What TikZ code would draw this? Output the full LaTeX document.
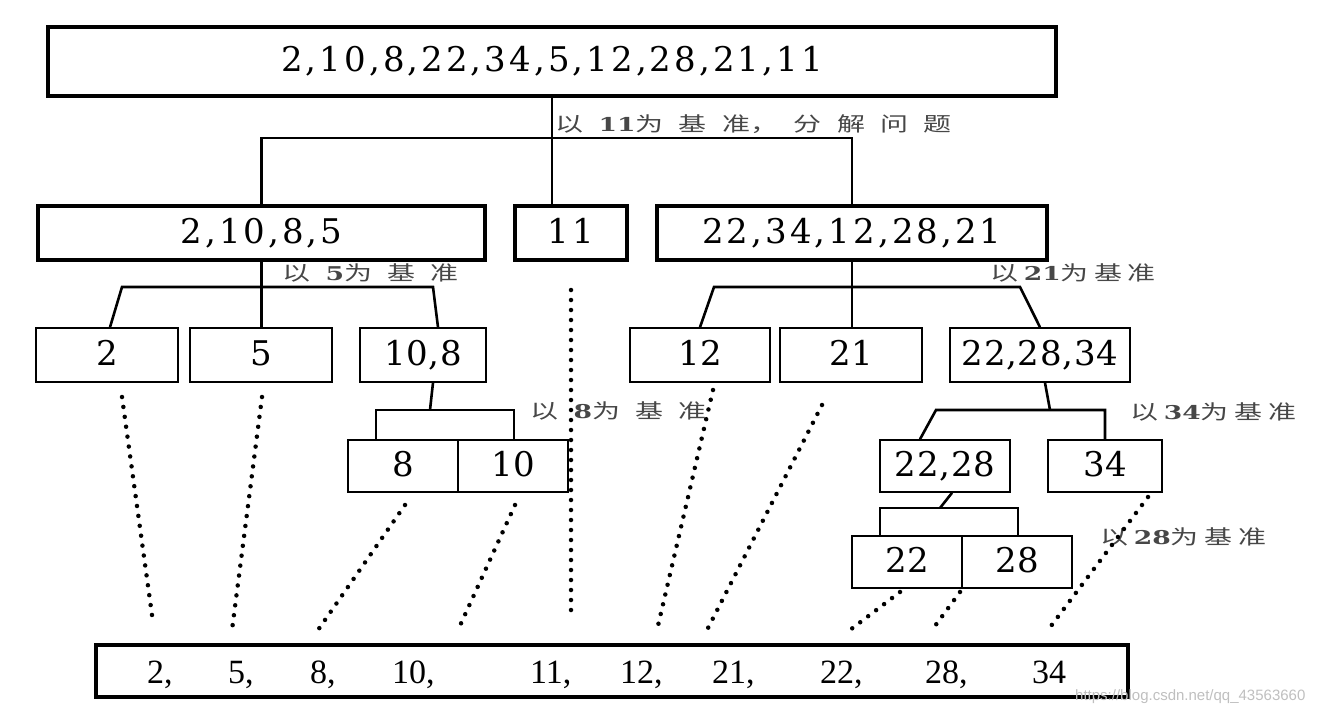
\documentclass[tikz,border=0pt]{standalone}
\usepackage{fontspec}
\setmainfont{Liberation Serif}
\newfontfamily\numfontA[LetterSpace=9]{DejaVu Serif}
\newfontfamily\numfontB[LetterSpace=2]{DejaVu Serif}
\newfontfamily\lnum{DejaVu Serif}
\newfontfamily\cjk{Noto Sans CJK SC}
\newfontfamily\wmfont{Liberation Sans}
\newcommand{\gp}{\hspace{11pt}}
\newcommand{\gq}{\hspace{4pt}}
\newcommand{\labn}[1]{{\lnum\bfseries\fontsize{19}{21}\selectfont #1}}
\begin{document}
\begin{tikzpicture}[x=1pt,y=-1pt,
  box/.style={draw, line width=1.6pt, minimum height=54pt, inner sep=0pt, text height=24pt, text depth=4pt, font=\numfontB\fontsize{34}{40}\selectfont},
  thickbox/.style={box, line width=3.8pt, font=\numfontA\fontsize{34}{40}\selectfont},
  tree/.style={line width=2.6pt},
  dots/.style={line width=4.5pt, dash pattern=on 0pt off 10pt, line cap=round},
  lab/.style={anchor=west, inner sep=0pt, text=black!72, font=\cjk\fontsize{20}{22}\selectfont},
  bnum/.style={anchor=base west, inner sep=0pt, font=\fontsize{34}{40}\selectfont}]
\useasboundingbox (0,0) rectangle (1328,718);
% boxes
\node[thickbox, minimum width=1008pt, minimum height=69pt] (top) at (552,61.5) {2,10,8,22,34,5,12,28,21,11};
\node[thickbox, minimum width=447pt] (A) at (261.5,233) {2,10,8,5};
\node[thickbox, minimum width=112pt] (B) at (571,233) {11};
\node[thickbox, minimum width=390pt] (C) at (852,233) {22,34,12,28,21};
\node[box, minimum width=142pt] (n2) at (107,355) {2};
\node[box, minimum width=142pt] (n5) at (261,355) {5};
\node[box, minimum width=126pt] (n108) at (423,355) {10,8};
\node[box, minimum width=140pt] (n12) at (700,355) {12};
\node[box, minimum width=142pt] (n21) at (851,355) {21};
\node[box, minimum width=180pt] (n222834) at (1040,355) {22,28,34};
\node[box, minimum width=110pt, minimum height=52pt] (n8) at (403,466) {8};
\node[box, minimum width=110pt, minimum height=52pt] (n10) at (513,466) {10};
\node[box, minimum width=130pt, minimum height=52pt] (n2228) at (945,466) {22,28};
\node[box, minimum width=114pt, minimum height=52pt] (n34) at (1105,466) {34};
\node[box, minimum width=110pt, minimum height=52pt] (n22) at (907,562) {22};
\node[box, minimum width=110pt, minimum height=52pt] (n28) at (1017,562) {28};
\node[thickbox, minimum width=1032pt, minimum height=52pt] (bot) at (612,671) {};
% bottom numbers
\node[bnum] (b1) at (147,683) {2,};
\node[bnum] (b2) at (228,683) {5,};
\node[bnum] (b3) at (310,683) {8,};
\node[bnum] (b4) at (392,683) {10,};
\node[bnum] (b5) at (530,683) {11,};
\node[bnum] (b6) at (620,683) {12,};
\node[bnum] (b7) at (712,683) {21,};
\node[bnum] (b8) at (820,683) {22,};
\node[bnum] (b9) at (925,683) {28,};
\node[bnum] (b10) at (1032,683) {34};
% tree: level 1
\coordinate (h1) at (552,138);
\draw[tree] (top.south) -- (top.south |- B.north);
\draw[tree] (A.north) |- (h1) -| (C.north);
% under A
\coordinate (a1) at (122,287);
\coordinate (a2) at (433,287);
\draw[tree] (A.south) -- (A.south |- n5.north);
\draw[tree] ([xshift=3pt]n2.north) -- (a1) -- (a2) -- ([xshift=15pt]n108.north);
% under 10,8
\coordinate (c0) at (430,410);
\coordinate (c1) at (376,410);
\coordinate (c2) at (514,410);
\draw[tree] ([xshift=10pt]n108.south) -- (c0);
\draw[tree] (c1 |- n8.north) -- (c1) -- (c2) -- (c2 |- n10.north);
% under C
\coordinate (d1) at (714,287);
\coordinate (d2) at (1020,287);
\draw[tree] (C.south) -- (C.south |- n21.north);
\draw[tree] (n12.north) -- (d1) -- (d2) -- (n222834.north);
% under 22,28,34
\coordinate (e0) at (1050,410);
\coordinate (e1) at (936,410);
\coordinate (e2) at (1105,410);
\draw[tree] ([xshift=5pt]n222834.south) -- (e0);
\draw[tree] ([xshift=-25pt]n2228.north) -- (e1) -- (e2) -- (n34.north);
% under 22,28
\coordinate (f0) at (940,508);
\coordinate (f1) at (880,508);
\coordinate (f2) at (1018,508);
\draw[tree] ([xshift=7pt]n2228.south) -- (f0);
\draw[tree] (f1 |- n22.north) -- (f1) -- (f2) -- (f2 |- n28.north);
% labels
\node[lab] (L1) at (555,124) {\scalebox{1.4}[1]{以\gp\labn{11}为\gp 基\gp 准，\gp 分\gp 解\gp 问\gp 题}};
\node[lab] (L2) at (282,273) {\scalebox{1.4}[1]{以\gp\labn{5}为\gp 基\gp 准}};
\node[lab] (L3) at (530,411) {\scalebox{1.4}[1]{以\gp\labn{8}为\gp 基\gp 准}};
\node[lab] (L4) at (990,273) {\scalebox{1.4}[1]{以\gq\labn{21}为\gq 基\gq 准}};
\node[lab] (L5) at (1130,412) {\scalebox{1.4}[1]{以\gq\labn{34}为\gq 基\gq 准}};
\node[lab] (L6) at (1100,537) {\scalebox{1.4}[1]{以\gq\labn{28}为\gq 基\gq 准}};
% dotted lines
\coordinate (p2s) at (122,397);  \coordinate (p2e) at (152,615);
\coordinate (p5s) at (262,397);  \coordinate (p5e) at (232,630);
\coordinate (p8s) at (405,505);  \coordinate (p8e) at (318,630);
\coordinate (p10s) at (515,505); \coordinate (p10e) at (458,630);
\coordinate (p11s) at (571,290); \coordinate (p11e) at (571,615);
\coordinate (p12s) at (713,390); \coordinate (p12e) at (657,630);
\coordinate (p21s) at (822,405); \coordinate (p21e) at (707,630);
\coordinate (p22s) at (900,592); \coordinate (p22e) at (850,630);
\coordinate (p28s) at (960,592); \coordinate (p28e) at (932,630);
\coordinate (p34s) at (1148,497); \coordinate (p34e) at (1048,630);
\foreach \p in {2,5,8,10,11,12,21,22,28,34}{
  \draw[dots] (p\p s) -- (p\p e);
}
% watermark
\node[anchor=west, inner sep=0pt, text=black!25, font=\wmfont\fontsize{15}{18}\selectfont] (wm) at (1075,697) {https://blog.csdn.net/qq\_43563660};
\end{tikzpicture}
\end{document}
